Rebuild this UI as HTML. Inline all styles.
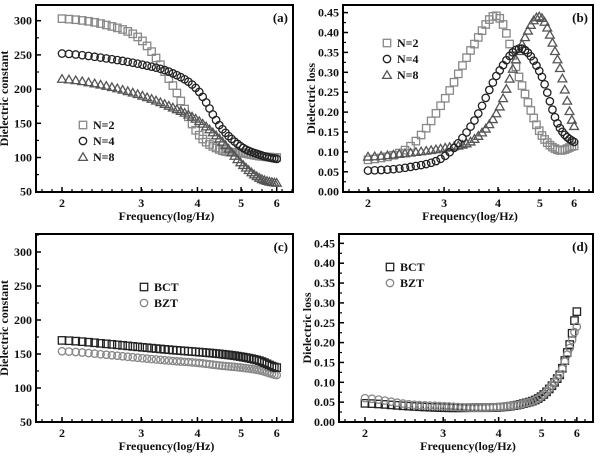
<!DOCTYPE html>
<html><head><meta charset="utf-8"><style>
html,body{margin:0;padding:0;background:#fff;}
svg text{font-family:"Liberation Serif",serif;font-weight:bold;fill:#111;}
</style></head><body>
<svg id="s" width="600" height="453" xmlns="http://www.w3.org/2000/svg"></svg>
<script>
const S=document.getElementById('s');let h='';
function cr(p,v){
  let i=0;while(i<p.length-2&&v>p[i+1][0])i++;
  const p0=p[Math.max(i-1,0)],p1=p[i],p2=p[i+1],p3=p[Math.min(i+2,p.length-1)];
  const t=(v-p1[0])/(p2[0]-p1[0]);
  const a=p0[1],b=p1[1],c=p2[1],d=p3[1];
  return 0.5*((2*b)+(-a+c)*t+(2*a-5*b+4*c-d)*t*t+(-a+3*b-3*c+d)*t*t*t);
}
function mk(type,x,y,col){
  const r=3.7;
  if(type=='s')h+=`<rect x="${x-r}" y="${y-r}" width="${2*r}" height="${2*r}" fill="none" stroke="${col}" stroke-width="1.3"/>`;
  else if(type=='c')h+=`<circle cx="${x}" cy="${y}" r="${r}" fill="none" stroke="${col}" stroke-width="1.3"/>`;
  else h+=`<polygon points="${x},${y-r-0.5} ${x-r-0.7},${y+r-0.3} ${x+r+0.7},${y+r-0.3}" fill="none" stroke="${col}" stroke-width="1.3"/>`;
}
function panel(P){
  const {L,T,R,B,x2,xs,y0,ypx,ymin,ymax,ystep,fmt,lab,ylab,series,legend,lx,ly}=P;
  const X=v=>x2+xs*Math.log10(v/2);
  const Y=val=>y0-(val-ymin)*ypx;
  series.forEach(s=>{
    for(let k=0;k<=55;k++){const v=2+4*k/55;mk(s.t,X(v),Y(cr(s.p,v)),s.c);}
  });
  h+=`<rect x="${L}" y="${T}" width="${R-L}" height="${B-T}" fill="none" stroke="#000" stroke-width="2"/>`;
  for(let val=ymin;val<=ymax+1e-9;val+=ystep){
    const y=Y(val);
    h+=`<line x1="${L}" x2="${L+5}" y1="${y}" y2="${y}" stroke="#000" stroke-width="1.5"/>`;
    h+=`<text x="${L-4}" y="${y+4}" font-size="12" text-anchor="end">${fmt(val)}</text>`;
    const ym=Y(val+ystep/2);if(ym>T)h+=`<line x1="${L}" x2="${L+3}" y1="${ym}" y2="${ym}" stroke="#000" stroke-width="1.2"/>`;
  }
  for(let v=2;v<=6;v+=1){const x=X(v);h+=`<line x1="${x}" x2="${x}" y1="${B}" y2="${B-5}" stroke="#000" stroke-width="1.5"/><text x="${x}" y="${B+15}" font-size="12" text-anchor="middle">${v}</text>`;}
  for(let x=L+6;x<R;x+=10)h+=`<line x1="${x}" x2="${x}" y1="${B}" y2="${B-3}" stroke="#000" stroke-width="1.2"/>`;
  h+=`<text x="${(L+R)/2+2}" y="${B+28}" font-size="12" text-anchor="middle">Frequency(log/Hz)</text>`;
  h+=`<text transform="translate(${L-28},${(T+B)/2}) rotate(-90)" font-size="12" text-anchor="middle">${ylab}</text>`;
  h+=`<text x="${R-5}" y="${T+17}" font-size="13" text-anchor="end">${lab}</text>`;
  legend.forEach((g,i)=>{mk(g[0],lx,ly+i*16,g[2]);h+=`<text x="${lx+10}" y="${ly+i*16+4}" font-size="12">${g[1]}</text>`;});
}
const V=[2,2.5,3,3.5,4,4.5,5,5.5,6];
const z=a=>a.map((y,i)=>[V[i],y]);
const f0=v=>String(Math.round(v));
const f2=v=>v.toFixed(2);
panel({L:36,T:5,R:293,B:192,x2:62,xs:450,y0:191.7,ypx:34.2/50,ymin:50,ymax:300,ystep:50,fmt:f0,lab:'(a)',ylab:'Dielectric constant',
 series:[{t:'s',c:'#888',p:z([303,294,272,209,136,111,107,102,100])},
         {t:'t',c:'#555',p:z([215,205,191,174,155,126,92,70,63])},
         {t:'c',c:'#222',p:z([252,245,236,224,199,145,116,104,98])}],
 legend:[['s','N=2','#888'],['c','N=4','#222'],['t','N=8','#555']],lx:83,ly:125});
panel({L:343,T:5,R:593,B:192,x2:368,xs:432,y0:191.7,ypx:19.9/0.05,ymin:0,ymax:0.45,ystep:0.05,fmt:f2,lab:'(b)',ylab:'Dielectric loss',
 series:[{t:'s',c:'#888',p:z([0.08,0.113,0.23,0.365,0.44,0.28,0.15,0.105,0.115])},
         {t:'t',c:'#555',p:z([0.088,0.098,0.11,0.13,0.205,0.36,0.44,0.33,0.165])},
         {t:'c',c:'#222',p:z([0.053,0.062,0.088,0.173,0.298,0.36,0.30,0.17,0.125])}],
 legend:[['s','N=2','#888'],['c','N=4','#222'],['t','N=8','#555']],lx:387,ly:43});
panel({L:36,T:234,R:293,B:422,x2:62,xs:450,y0:422,ypx:34/50,ymin:50,ymax:300,ystep:50,fmt:f0,lab:'(c)',ylab:'Dielectric constant',
 series:[{t:'c',c:'#888',p:z([154,149,144,140,137,133,130,126,119])},
         {t:'s',c:'#222',p:z([170,165,160,156,153,150,146,140,130])}],
 legend:[['s','BCT','#222'],['c','BZT','#888']],lx:144,ly:287});
panel({L:339,T:234,R:593,B:422,x2:365,xs:444,y0:422,ypx:19.85/0.05,ymin:0,ymax:0.45,ystep:0.05,fmt:f2,lab:'(d)',ylab:'Dielectric loss',
 series:[{t:'s',c:'#222',p:[[2,0.047],[2.5,0.04],[3,0.036],[3.5,0.036],[4,0.037],[4.5,0.045],[5,0.065],[5.5,0.12],[5.8,0.2],[6,0.278]]},
         {t:'c',c:'#888',p:[[2,0.06],[2.5,0.045],[3,0.04],[3.5,0.036],[4,0.038],[4.5,0.045],[5,0.065],[5.5,0.12],[5.8,0.19],[6,0.24]]}],
 legend:[['s','BCT','#222'],['c','BZT','#888']],lx:390,ly:267});
S.innerHTML=h;
</script>
</body></html>
